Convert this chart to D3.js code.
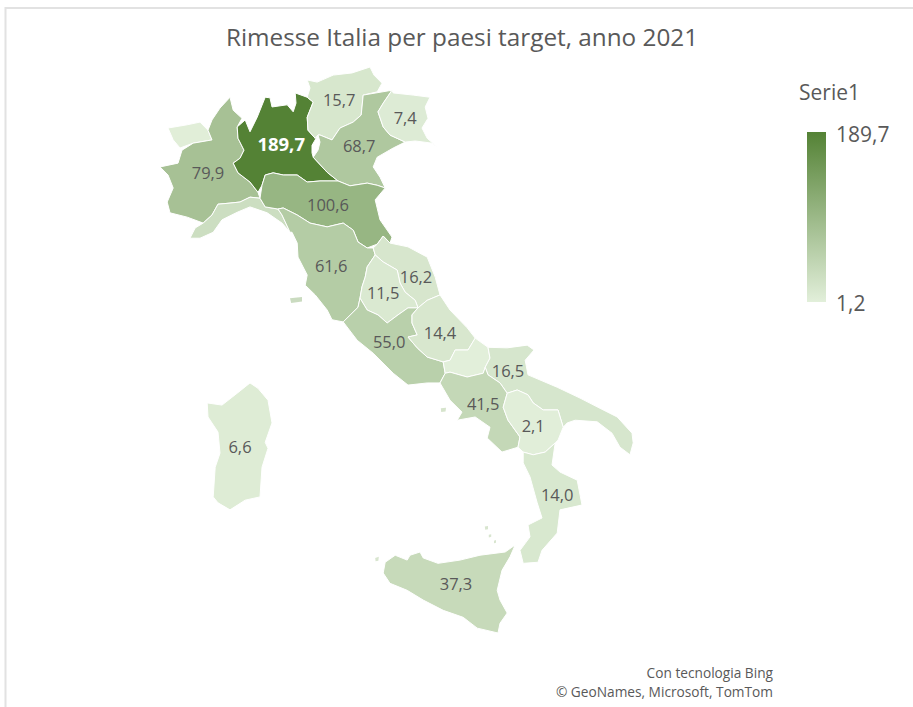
<!DOCTYPE html>
<html lang="it">
<head>
<meta charset="utf-8">
<title>Rimesse Italia per paesi target, anno 2021</title>
<script src="https://cdn.jsdelivr.net/npm/d3@7/dist/d3.min.js"></script>
<style>
  html, body { margin: 0; padding: 0; background: #fff; }
  svg { display: block; }
  text { font-family: "Open Sans", "Noto Sans", sans-serif; fill: #595959; }
</style>
</head>
<body>
<div id="chart"></div>
<script>
// Chart text
const chartTitle = "Rimesse Italia per paesi target, anno 2021";
const seriesName = "Serie1";
const attribution = ["Con tecnologia Bing", "© GeoNames, Microsoft, TomTom"];

// Remittances by region; the domain of the colour scale runs from the lowest to the highest
const regionNames = ["Valle d'Aosta", "Piemonte", "Liguria", "Lombardia", "Trentino-Alto Adige", "Veneto",
  "Friuli-Venezia Giulia", "Emilia-Romagna", "Toscana", "Marche", "Umbria", "Lazio", "Abruzzo", "Molise",
  "Puglia", "Campania", "Basilicata", "Calabria", "Sicilia", "Sardegna"];
const regionValues = [3.0, 79.9, 30.0, 189.7, 15.7, 68.7, 7.4, 100.6, 61.6, 16.2, 11.5, 55.0, 14.4, 1.2,
  16.5, 41.5, 2.1, 14.0, 37.3, 6.6];
const hiddenLabels = ["Valle d'Aosta", "Liguria", "Molise"];

// Label anchors [lon, lat], in the same order as regionNames
const labelAnchors = [[7.6, 45.9], [7.8, 45.15], [8.5, 44.4], [9.63, 45.68], [11.08, 46.5], [11.58, 45.65],
  [12.73, 46.17], [10.8, 44.55], [10.88, 43.42], [13, 43.22], [12.18, 42.93], [12.33, 42.02], [13.6, 42.18],
  [14.3, 41.7], [15.3, 41.48], [14.68, 40.87], [15.93, 40.46], [16.53, 39.18], [14, 37.53], [8.6, 40.07]];

// Borders shared by neighbouring regions, as [lon, lat] runs
const borderPiedmontLombardy = [[8.53, 46], [8.55, 45.79], [8.7, 45.57], [8.6, 45.42], [8.43, 45.33], [8.55, 45.15], [8.85, 44.98], [9.05, 44.79]];
const borderPiedmontLiguria = [[9.1, 44.68], [8.85, 44.7], [8.6, 44.61], [8.35, 44.59], [8.05, 44.57], [7.9, 44.37], [7.68, 44.22]];
const borderLombardyTrentino = [[9.98, 46.63], [10.28, 46.55], [10.43, 46.46], [10.28, 46.18], [10.3, 45.94], [10.48, 45.79], [10.55, 45.85]];
const borderLombardyVeneto = [[10.43, 45.44], [10.78, 45.16], [11.05, 45]];
const borderLombardyEmilia = [[11.05, 45], [10.6, 45], [10.28, 44.98], [10.03, 45.11], [9.68, 45.11], [9.43, 45.15], [9.23, 45.11], [9.15, 44.92], [9.05, 44.79]];
const borderTrentinoVeneto = [[11.68, 46.59], [11.63, 46.22], [11.43, 46.09], [11.1, 45.98], [10.9, 45.76], [10.6, 45.85], [10.55, 45.85]];
const borderVenetoFriuli = [[12.4, 46.68], [12.18, 46.44], [12.05, 46.28], [12.18, 46], [12.35, 45.85], [12.73, 45.72]];
const borderVenetoEmilia = [[12.23, 44.87], [12.03, 44.92], [11.78, 44.96], [11.35, 44.91], [11.05, 45]];
const borderEmiliaTuscany = [[11.78, 43.76], [11.55, 43.87], [11.43, 44.09], [11.18, 44.22], [10.78, 44.15], [10.35, 44.22], [10.03, 44.37], [9.68, 44.5], [9.55, 44.48]];
const borderEmiliaLiguria = [[9.55, 44.48], [9.23, 44.52], [9.1, 44.68], [9.05, 44.79]];
const borderUmbriaTuscany = [[11.98, 43.63], [11.78, 43.41], [11.73, 43.22], [11.65, 43.04], [11.6, 42.83]];
const borderUmbriaMarche = [[11.98, 43.63], [12.18, 43.5], [12.53, 43.35], [12.6, 43.11], [12.73, 42.94], [12.98, 42.79], [13.05, 42.65]];
const borderUmbriaLazio = [[11.6, 42.83], [11.78, 42.61], [12.05, 42.52], [12.28, 42.37], [12.55, 42.52], [12.8, 42.65], [13.05, 42.65]];
const borderLazioAbruzzo = [[13.05, 42.65], [12.9, 42.52], [12.9, 42.37], [13.03, 42.15], [12.8, 42.11], [13.03, 41.91], [13.28, 41.74], [13.68, 41.65]];
const borderAbruzzoMolise = [[14.48, 42.09], [14.3, 41.87], [13.98, 41.87], [13.85, 41.68], [13.68, 41.65]];
const borderMolisePuglia = [[14.48, 42.09], [14.8, 41.92], [14.85, 41.72], [14.73, 41.55]];
const borderMoliseCampania = [[14.73, 41.55], [14.68, 41.44], [14.28, 41.37], [13.85, 41.46], [13.73, 41.44]];
const borderPugliaCampania = [[14.73, 41.55], [14.8, 41.41], [15.1, 41.26], [15.28, 41.07]];
const borderPugliaBasilicata = [[15.28, 41.07], [15.53, 41.13], [15.8, 41.04], [15.93, 40.89], [16.18, 40.76], [16.55, 40.76], [16.68, 40.44]];
const borderCampaniaBasilicata = [[15.28, 41.07], [15.18, 40.81], [15.3, 40.57], [15.6, 40.26], [15.55, 40.07]];
const borderBasilicataCalabria = [[16.48, 40.15], [16.23, 39.98], [15.93, 39.93], [15.68, 39.98]];
const tripleAostaPiedmont = [[7.43, 45.7], [7.9, 45.76], [7.8, 45.94]];

const rev = run => run.slice().reverse();

// Region outlines assembled from the shared borders and their coasts and frontiers
const regionRings = [
  [[6.8, 45.98], [7.28, 46.04], [7.6, 46.09], ...rev(tripleAostaPiedmont), [7.1, 45.61], [6.93, 45.76]],
  [[8.35, 46.55], [8.43, 46.31], [8.65, 46.16], ...borderPiedmontLombardy, ...borderPiedmontLiguria,
    [7.28, 44.33], [6.85, 44.41], [6.78, 44.61], [6.93, 44.87], [6.8, 45.11], [6.6, 45.26], [7.05, 45.33], [7.15, 45.57],
    ...tripleAostaPiedmont, [7.9, 46.13], [8.1, 46.35]],
  [...borderPiedmontLiguria, [7.48, 44.13], [7.35, 43.94], [7.6, 43.94], [7.93, 44.05], [8.15, 44.28], [8.53, 44.42],
    [8.85, 44.52], [9.28, 44.41], [9.65, 44.22], [9.85, 44.05], [9.65, 44.37], ...borderEmiliaLiguria.slice(0, 3)],
  [[8.53, 46], [8.73, 46.13], [8.85, 45.91], [9.03, 46.18], [9.23, 46.55], [9.35, 46.54], [9.4, 46.37], [9.78, 46.41],
    [9.93, 46.28], [10, 46.44], ...borderLombardyTrentino, [10.4, 45.66], [10.4, 45.52], ...borderLombardyVeneto,
    ...borderLombardyEmilia, ...rev(borderPiedmontLombardy)],
  [[10.28, 46.87], [10.53, 46.83], [10.93, 46.96], [11.4, 47], [11.85, 47.11], [11.95, 46.96], [12.15, 46.81], [12.03, 46.65],
    ...borderTrentinoVeneto, ...rev(borderLombardyTrentino).slice(0, 6), [10.35, 46.72]],
  [...borderVenetoFriuli, [12.43, 45.61], [12.03, 45.44], [11.93, 45.26], [12.1, 45.07], ...borderVenetoEmilia,
    ...rev(borderLombardyVeneto), [10.55, 45.57], [10.6, 45.72], ...rev(borderTrentinoVeneto)],
  [[12.43, 46.63], [12.93, 46.59], [13.35, 46.55], [13.23, 46.37], [13.3, 46.16], [13.15, 45.98], [13.28, 45.79], [13.53, 45.63],
    [13.4, 45.7], [12.98, 45.74], ...rev(borderVenetoFriuli)],
  [...rev(borderLombardyEmilia).slice(1), ...rev(borderVenetoEmilia), [11.98, 44.65], [12.1, 44.28], [12.4, 43.96], [12.35, 43.85],
    [12.18, 43.98], [12.03, 43.83], ...borderEmiliaTuscany, ...borderEmiliaLiguria.slice(1, 3)],
  [...rev(borderEmiliaTuscany), [11.93, 43.76], ...borderUmbriaTuscany, [11.55, 42.66], [11.18, 42.39], [10.9, 42.43], [10.78, 42.61],
    [10.48, 42.89], [10.23, 43.07], [10.28, 43.26], [10.05, 43.59], [10.03, 43.85], [9.9, 44.05], [9.85, 44.05], [9.65, 44.37]],
  [[12.18, 43.98], [12.35, 43.85], [12.8, 43.78], [13.28, 43.59], [13.48, 43.22], [13.6, 42.89], [13.28, 42.79],
    ...rev(borderUmbriaMarche), [11.93, 43.76], [12.03, 43.83]],
  [...borderUmbriaMarche, ...rev(borderUmbriaLazio), ...rev(borderUmbriaTuscany).slice(1, 4)],
  [...borderUmbriaLazio, ...borderLazioAbruzzo.slice(1), [13.73, 41.44], [13.6, 41.26], [13.28, 41.26], [12.8, 41.22], [12.43, 41.44],
    [11.93, 41.81], [11.53, 42.05], [11.18, 42.39], [11.55, 42.66]],
  [[13.6, 42.89], [13.85, 42.61], [14.28, 42.28], ...borderAbruzzoMolise, ...rev(borderLazioAbruzzo), [13.28, 42.79]],
  [...borderMolisePuglia, ...borderMoliseCampania, ...rev(borderAbruzzoMolise).slice(0, 4)],
  [[14.8, 41.92], [15.28, 41.91], [15.78, 41.96], [15.95, 41.87], [15.73, 41.68], [15.8, 41.41], [16.53, 41.18], [17.1, 40.98],
    [17.6, 40.79], [18.03, 40.63], [18.4, 40.33], [18.43, 40.15], [18.35, 39.93], [18.1, 40.07], [17.9, 40.33], [17.53, 40.54],
    [16.98, 40.57], [16.78, 40.52], ...rev(borderPugliaBasilicata), ...rev(borderPugliaCampania), [14.85, 41.72]],
  [...rev(borderMoliseCampania), ...borderPugliaCampania, ...borderCampaniaBasilicata, [15.15, 39.98], [14.78, 40.24], [14.85, 40.44],
    [14.48, 40.63], [14.03, 40.57], [14.15, 40.72], [13.85, 40.94], [13.6, 41.26]],
  [...borderPugliaBasilicata, [16.55, 40.2], ...borderBasilicataCalabria, ...rev(borderCampaniaBasilicata).slice(0, 4)],
  [...rev(borderBasilicataCalabria), [16.4, 39.74], [16.6, 39.61], [17.03, 39.46], [17.15, 39], [16.6, 38.91], [16.53, 38.48],
    [16.15, 38.16], [16.05, 37.94], [15.68, 37.92], [15.6, 38.16], [15.85, 38.41], [15.8, 38.63], [16.15, 38.76], [16.03, 39.04],
    [15.85, 39.52], [15.68, 39.78]],
  [[15.48, 38.26], [15.23, 38.13], [14.6, 38.07], [14.1, 37.98], [13.55, 37.92], [13.18, 38.02], [13.1, 38.13], [12.85, 38.07],
    [12.78, 37.98], [12.48, 38.07], [12.23, 37.94], [12.18, 37.74], [12.35, 37.55], [12.78, 37.42], [13.18, 37.24], [13.68, 37.05],
    [14.18, 36.92], [14.53, 36.72], [15.05, 36.63], [15.1, 36.81], [15.28, 37], [15.1, 37.24], [15.03, 37.42], [15.15, 37.79], [15.35, 38.04]],
  [[8.85, 41.26], [9.05, 41.16], [9.3, 40.94], [9.4, 40.52], [9.23, 40.16], [9.3, 40.05], [9.15, 39.7], [9.1, 39.15], [8.73, 39.09],
    [8.35, 38.91], [8.05, 39.04], [7.93, 39.15], [7.98, 39.7], [8.1, 39.96], [8.05, 40.35], [7.8, 40.63], [7.78, 40.89], [8.15, 40.85], [8.53, 41.07]]
];

// Minor islands: region index and outline
const islandRegions = [8, 15, 18, 18, 18, 18];
const islandRings = [
  [[9.85, 42.83], [10.15, 42.85], [10.15, 42.77], [9.88, 42.74]],
  [[13.62, 40.79], [13.75, 40.8], [13.74, 40.73], [13.63, 40.72]],
  [[11.98, 38.02], [12.07, 38.04], [12.06, 37.97], [11.99, 37.96]],
  [[14.72, 38.6], [14.8, 38.61], [14.8, 38.55], [14.73, 38.54]],
  [[14.82, 38.45], [14.88, 38.46], [14.88, 38.41], [14.82, 38.4]],
  [[14.95, 38.34], [15, 38.35], [15, 38.3], [14.95, 38.29]]
];

const width = 913, height = 707;
const colorRange = ["#e2efda", "#548235"];
const extent = d3.extent(regionValues);
const color = d3.scaleLinear().domain(extent).range(colorRange);

// Plate carrée map frame
const lonScale = d3.scaleLinear().domain([6.6, 18.43]).range([160, 633.2]);
const latScale = d3.scaleLinear().domain([47.11, 36.63]).range([67, 633]);
const projection = d3.geoTransform({
  point(lon, lat) { this.stream.point(lonScale(lon), latScale(lat)); }
});
const geoPath = d3.geoPath(projection);

const svg = d3.select("#chart").append("svg").attr("width", width).attr("height", height);

// Chart area edge, visible along the top and left
svg.append("path")
  .attr("d", d3.line()([[5.5, height], [5.5, 8], [width, 8]]))
  .attr("fill", "none").attr("stroke", "#e2e2e2").attr("stroke-width", 2);

svg.append("text")
  .attr("x", 462).attr("y", 46)
  .attr("text-anchor", "middle").attr("font-size", 24.3)
  .text(chartTitle);

const regions = regionNames.map((name, i) => ({
  name, value: regionValues[i], anchor: labelAnchors[i],
  geometry: { type: "Polygon", coordinates: [regionRings[i].concat([regionRings[i][0]])] }
}));

svg.append("g").selectAll("path")
  .data(islandRings)
  .join("path")
  .attr("d", ring => geoPath({ type: "Polygon", coordinates: [ring.concat([ring[0]])] }))
  .attr("fill", (ring, i) => color(regionValues[islandRegions[i]]))
  .attr("opacity", 0.7);

svg.append("g").selectAll("path")
  .data(regions)
  .join("path")
  .attr("d", d => geoPath(d.geometry))
  .attr("fill", d => color(d.value))
  .attr("stroke", "#ffffff").attr("stroke-width", 1).attr("stroke-linejoin", "round");

const isTop = d => d.value === extent[1];
const fmt = v => d3.format(".1f")(v).replace(".", ",");

svg.append("g").selectAll("text")
  .data(regions.filter(d => !hiddenLabels.includes(d.name)))
  .join("text")
  .attr("x", d => lonScale(d.anchor[0]))
  .attr("y", d => latScale(d.anchor[1]))
  .attr("dy", "0.35em")
  .attr("text-anchor", "middle")
  .attr("font-size", d => isTop(d) ? 18.5 : 16.5)
  .attr("font-weight", d => isTop(d) ? 700 : 400)
  .style("fill", d => isTop(d) ? "#ffffff" : "#595959")
  .text(d => fmt(d.value));

// Colour legend
const legendScale = d3.scaleLinear().domain(extent).range([302, 132]);
const gradient = svg.append("defs").append("linearGradient")
  .attr("id", "legend-ramp").attr("x1", 0).attr("x2", 0).attr("y1", 1).attr("y2", 0);
gradient.selectAll("stop").data(colorRange).join("stop")
  .attr("offset", (d, i) => i)
  .attr("stop-color", d => d);

svg.append("text").attr("x", 799).attr("y", 100).attr("font-size", 21).text(seriesName);
svg.append("rect")
  .attr("x", 807).attr("width", 19)
  .attr("y", legendScale(extent[1]))
  .attr("height", legendScale(extent[0]) - legendScale(extent[1]))
  .attr("fill", "url(#legend-ramp)");
svg.append("g").selectAll("text").data(extent).join("text")
  .attr("x", 836)
  .attr("y", d => legendScale(d))
  .attr("dy", d => d === extent[1] ? "0.48em" : "0.45em")
  .attr("font-size", 21)
  .text(fmt);

svg.append("g").selectAll("text").data(attribution).join("text")
  .attr("x", 773)
  .attr("y", (d, i) => 678 + i * 19)
  .attr("text-anchor", "end")
  .attr("font-size", 13.7)
  .text(d => d);
</script>
</body>
</html>
